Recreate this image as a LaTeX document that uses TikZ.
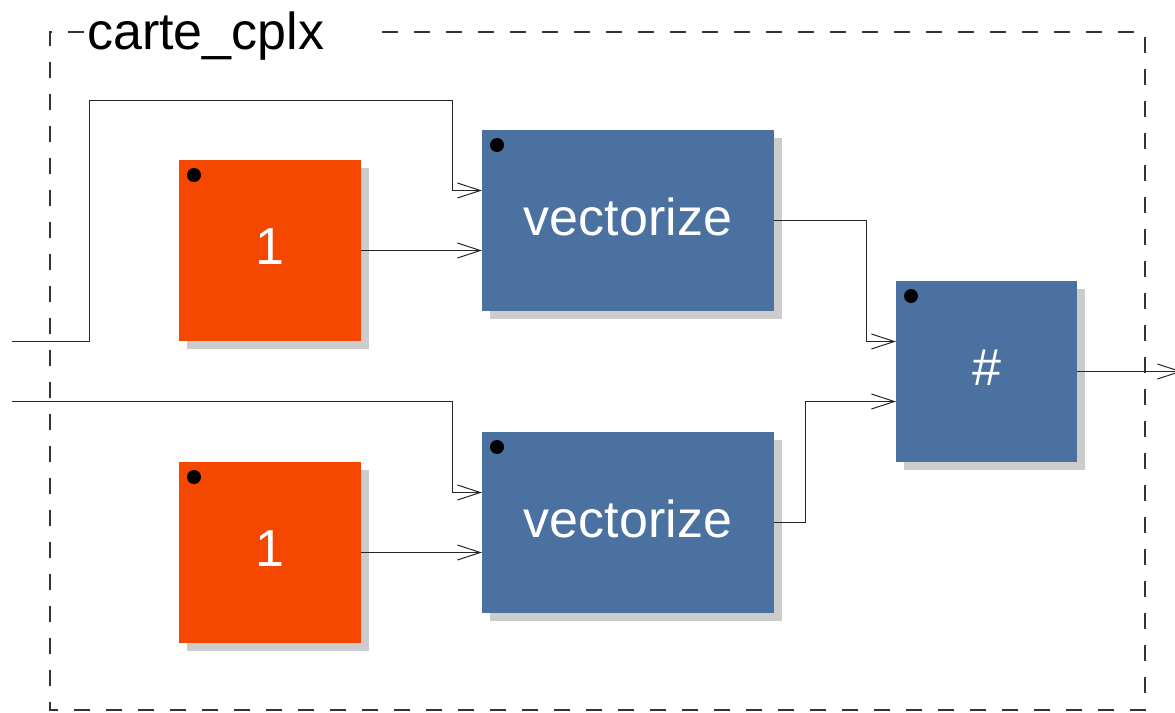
\documentclass[tikz,border=0pt]{standalone}
\usepackage{fontspec}
\setmainfont{Liberation Sans}
\usetikzlibrary{arrows.meta,shadows,calc}

\definecolor{cstorange}{HTML}{F44800}
\definecolor{fnblue}{HTML}{4B71A1}
\definecolor{shadowgray}{HTML}{CCCCCC}

\tikzset{
  blk/.style={anchor=north west, inner sep=0pt, outer sep=0pt,
    minimum height=181pt, text=white, text depth=8pt,
    font=\fontsize{52}{60}\selectfont,
    drop shadow={shadow xshift=8pt, shadow yshift=-8pt, fill=shadowgray, opacity=1}},
  cst/.style={blk, fill=cstorange, minimum width=182pt},
  fn/.style={blk, fill=fnblue},
  wire/.style={draw=black!85, line width=1pt},
  flow/.style={wire, -{Straight Barb[length=23pt,width=15pt,line width=1pt]}},
  frame/.style={draw=black!80, line width=1.5pt, dash pattern=on 16pt off 16pt},
}

\newcommand{\blkdot}[1]{\fill ($(#1.north west)+(15,15)$) circle (7pt);}

\begin{document}
\begin{tikzpicture}[x=1pt,y=-1pt]
\useasboundingbox (0,0) rectangle (1175,712);

% group frame and its title
\draw[frame] (382,32) -- (1145,32) -- (1145,710) -- (50,710) -- (50,32) -- (90,32);
\node[anchor=base west, inner sep=0pt, font=\fontsize{52}{60}\selectfont] (title) at (87,49) {carte\_cplx};

% blocks
\node[cst] (c1) at (179,160) {1};
\node[cst] (c2) at (179,462) {1};
\node[fn, minimum width=292pt] (v1) at (482,130) {vectorize};
\node[fn, minimum width=292pt] (v2) at (482,432) {vectorize};
\node[fn, minimum width=181pt] (h) at (896,281) {\#};

\blkdot{c1}
\blkdot{c2}
\blkdot{v1}
\blkdot{v2}
\blkdot{h}

% inputs and output
\coordinate (in1) at (12,341);
\coordinate (in2) at (12,401.5);
\coordinate (out) at (1182,371.5);

% connections
\draw[flow] (in1) -| (89,100) -| (452,190.5) -- ($(v1.west)+(0,-30)$);
\draw[flow] (c1.east) -- (v1.west |- c1.east);
\draw[flow] (in2) -| (452,492.5) -- ($(v2.west)+(0,-30)$);
\draw[flow] (c2.east) -- (v2.west |- c2.east);
\draw[flow] (v1.east) -| (866,341.5) -- ($(h.west)+(0,-30)$);
\draw[flow] (v2.east) -| (805,401.5) -- ($(h.west)+(0,30)$);
\draw[flow] (h.east) -- (out);
\end{tikzpicture}
\end{document}
